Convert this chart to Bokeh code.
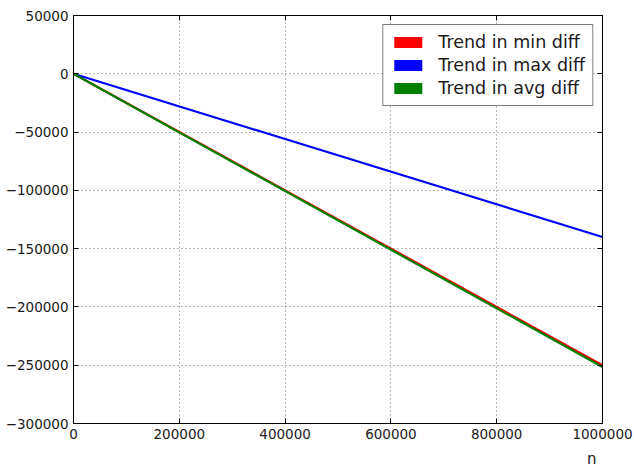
from bokeh.plotting import figure
from bokeh.models import (Range1d, FixedTicker, LinearAxis, Legend, LegendItem, Title)
from bokeh.embed import file_html
from bokeh.resources import INLINE

# ---- data ----
n_values = [0, 1000000]
min_trend = [0, -250000]
max_trend = [0, -140000]
avg_trend = [0, -251500]

x_ticks = [0, 200000, 400000, 600000, 800000, 1000000]
y_ticks = [-300000, -250000, -200000, -150000, -100000, -50000, 0, 50000]

def fmt(v):
    s = str(abs(int(v)))
    return ("\u2212" + s) if v < 0 else s

FONT = "DejaVu Sans"

p = figure(width=634, height=473, output_backend="svg", toolbar_location=None,
           x_range=Range1d(0, 1000000), y_range=Range1d(-300000, 50000),
           min_border_left=73, min_border_right=32, min_border_top=15, min_border_bottom=50)
p.background_fill_color = "white"
p.border_fill_color = "white"
p.outline_line_color = "black"
p.outline_line_width = 1

# legend patches (rectangles like matplotlib) - zero-area so they are invisible in the plot
r_min = p.quad(left=n_values[:1], right=n_values[:1], top=min_trend[:1], bottom=min_trend[:1],
               fill_color="#ff0000", line_color="#ff0000", line_alpha=0)
r_max = p.quad(left=n_values[:1], right=n_values[:1], top=max_trend[:1], bottom=max_trend[:1],
               fill_color="#0000ff", line_color="#0000ff", line_alpha=0)
r_avg = p.quad(left=n_values[:1], right=n_values[:1], top=avg_trend[:1], bottom=avg_trend[:1],
               fill_color="#008000", line_color="#008000", line_alpha=0)

# lines
p.line(n_values, min_trend, line_color="#ff0000", line_width=2.2)
p.line(n_values, max_trend, line_color="#0000ff", line_width=2.2)
p.line(n_values, avg_trend, line_color="#008000", line_width=2.2)

legend = Legend(items=[LegendItem(label="Trend in min diff", renderers=[r_min]),
                       LegendItem(label="Trend in max diff", renderers=[r_max]),
                       LegendItem(label="Trend in avg diff", renderers=[r_avg])],
                location="top_right")
legend.margin = 9
legend.padding = 7
legend.spacing = 3
legend.glyph_width = 35
legend.glyph_height = 14
legend.label_standoff = 13
legend.label_text_font = FONT
legend.label_text_font_size = "17.5px"
legend.label_text_color = "#1a1a1a"
legend.border_line_color = "black"
legend.border_line_width = 1
legend.background_fill_color = "white"
legend.background_fill_alpha = 1
p.add_layout(legend, "center")

# grid
for g in (p.xgrid, p.ygrid):
    g.grid_line_color = "black"
    g.grid_line_alpha = 0.55
    g.grid_line_dash = "1 3"
    g.grid_line_width = 1
p.xgrid.ticker = FixedTicker(ticks=x_ticks)
p.ygrid.ticker = FixedTicker(ticks=y_ticks)

def style_axis(ax, ticks, show_labels=True):
    ax.ticker = FixedTicker(ticks=ticks)
    if show_labels:
        ax.major_label_overrides = {t: fmt(t) for t in ticks}
    else:
        ax.major_label_overrides = {t: "" for t in ticks}
    ax.axis_line_color = "black"
    ax.major_tick_in = 5
    ax.major_tick_out = 0
    ax.minor_tick_in = 0
    ax.minor_tick_out = 0
    ax.major_tick_line_color = "black"
    ax.major_label_text_font = FONT
    ax.major_label_text_font_size = "13.5px"
    ax.major_label_text_color = "#1a1a1a"
    ax.major_label_standoff = 5 if show_labels else 0

style_axis(p.xaxis[0], x_ticks)
style_axis(p.yaxis[0], y_ticks)

top_ax = LinearAxis()
right_ax = LinearAxis()
style_axis(top_ax, x_ticks, show_labels=False)
style_axis(right_ax, y_ticks, show_labels=False)
p.add_layout(top_ax, "above")
p.add_layout(right_ax, "right")

# x axis label "n" at the right below the axis
t = Title(text="n", align="right", text_font=FONT, text_font_size="15px",
          text_font_style="normal", text_color="#1a1a1a", offset=6, standoff=12)
p.add_layout(t, "below")

open("out.html", "w").write(file_html(p, INLINE))
